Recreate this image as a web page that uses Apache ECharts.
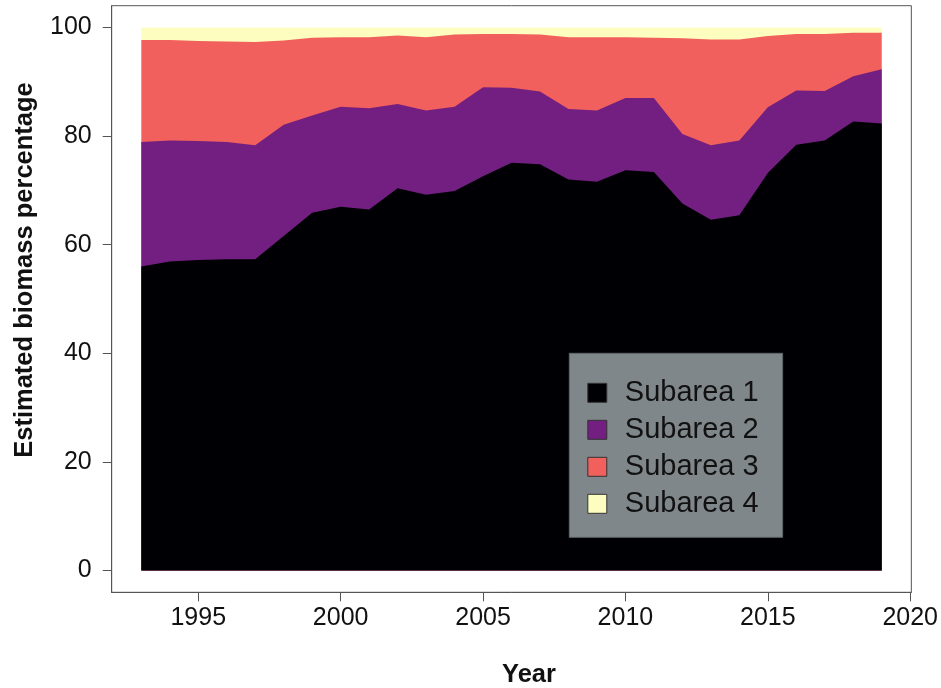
<!DOCTYPE html>
<html>
<head>
<meta charset="utf-8">
<script src="https://cdn.jsdelivr.net/npm/echarts@6/dist/echarts.min.js"></script>
<style>
  html, body { margin: 0; padding: 0; background: #ffffff; }
  #chart { width: 941px; height: 688px; }
</style>
</head>
<body>
<div id="chart"></div>
<script>
// ---- data ----
const years = [1993, 1994, 1995, 1996, 1997, 1998, 1999, 2000, 2001, 2002, 2003, 2004, 2005, 2006,
               2007, 2008, 2009, 2010, 2011, 2012, 2013, 2014, 2015, 2016, 2017, 2018, 2019];
const subarea1 = [56.0, 56.9, 57.2, 57.3, 57.3, 61.6, 65.9, 67.0, 66.5, 70.4, 69.2, 69.9, 72.6, 75.1,
                  74.8, 72.0, 71.6, 73.7, 73.4, 67.6, 64.6, 65.4, 73.2, 78.4, 79.2, 82.7, 82.3];
const subarea2 = [22.9, 22.3, 21.9, 21.6, 21.0, 20.5, 17.9, 18.4, 18.6, 15.5, 15.5, 15.5, 16.4, 13.8,
                  13.4, 13.0, 13.1, 13.3, 13.6, 12.8, 13.7, 13.8, 12.1, 10.0, 9.1, 8.3, 10.0];
const subarea3 = [18.8, 18.5, 18.4, 18.5, 19.0, 15.5, 14.3, 12.8, 13.1, 12.6, 13.5, 13.3, 9.8, 9.9,
                  10.5, 13.2, 13.5, 11.2, 11.1, 17.6, 19.5, 18.6, 13.1, 10.4, 10.5, 8.0, 6.7];
const subarea4 = [2.3, 2.3, 2.5, 2.6, 2.7, 2.4, 1.9, 1.8, 1.8, 1.5, 1.8, 1.3, 1.2, 1.2,
                  1.3, 1.8, 1.8, 1.8, 1.9, 2.0, 2.2, 2.2, 1.6, 1.2, 1.2, 1.0, 1.0];
const seriesNames = ['Subarea 1', 'Subarea 2', 'Subarea 3', 'Subarea 4'];
const xTickValues = [1995, 2000, 2005, 2010, 2015, 2020];
const yTickValues = [0, 20, 40, 60, 80, 100];
const xTitle = 'Year';
const yTitle = 'Estimated biomass percentage';

// ---- styles ----
const colors = ['#000004', '#721F81', '#F1605D', '#FCFDBF'];
const FONT = '"Liberation Sans", Arial, sans-serif';
const allSeries = [subarea1, subarea2, subarea3, subarea4];

// cumulative tops of the stacked areas (each area drawn down to 0, upper ones underneath)
const cumulative = [];
allSeries.forEach((vals, i) => {
  cumulative.push(vals.map((v, j) => (i === 0 ? v : cumulative[i - 1][j] + v)));
});

const chart = echarts.init(document.getElementById('chart'), null, { renderer: 'canvas' });

const series = allSeries.map((vals, i) => ({
  name: seriesNames[i],
  type: 'line',
  data: years.map((y, j) => [y, +cumulative[i][j].toFixed(3)]),
  showSymbol: false,
  symbol: 'none',
  color: colors[i],
  itemStyle: { color: colors[i] },
  lineStyle: { width: 0, color: colors[i] },
  areaStyle: { color: colors[i], opacity: 1, origin: 0 },
  emphasis: { disabled: true },
  z: 10 - i
}));

const option = {
  animation: false,
  backgroundColor: '#ffffff',
  grid: {
    left: 111.7, top: 5.7, right: 29.3, bottom: 95.7,
    show: true, borderColor: '#555555', borderWidth: 1, backgroundColor: 'transparent',
    containLabel: false
  },
  xAxis: {
    type: 'value',
    min: 1991.96, max: 2020.04,
    splitLine: { show: false },
    axisLine: { show: true, onZero: false, lineStyle: { color: '#555555', width: 1 } },
    axisTick: { show: true, length: 9, customValues: xTickValues, lineStyle: { color: '#555555', width: 1 } },
    axisLabel: {
      show: true, customValues: xTickValues, margin: 13,
      fontSize: 25, fontFamily: FONT, color: '#111111',
      formatter: v => String(v)
    }
  },
  yAxis: {
    type: 'value',
    min: -4, max: 104,
    splitLine: { show: false },
    axisLine: { show: true, onZero: false, lineStyle: { color: '#555555', width: 1 } },
    axisTick: { show: true, length: 9, customValues: yTickValues, lineStyle: { color: '#555555', width: 1 } },
    axisLabel: {
      show: true, customValues: yTickValues, margin: 20,
      fontSize: 25, fontFamily: FONT, color: '#111111',
      formatter: v => String(v)
    }
  },
  legend: {
    show: true,
    data: seriesNames,
    orient: 'vertical',
    left: 569.3, top: 353.3,
    backgroundColor: '#80878b',
    borderColor: '#5f6669', borderWidth: 1,
    padding: [25, 24, 19, 18],
    itemWidth: 19, itemHeight: 19, itemGap: 8,
    icon: 'rect',
    itemStyle: { borderColor: '#333333', borderWidth: 1 },
    selectedMode: false,
    textStyle: { fontSize: 29, fontFamily: FONT, color: '#111111', lineHeight: 29, padding: [0, 0, 0, 13] },
    z: 20
  },
  graphic: [
    {
      type: 'text',
      x: 24.7, y: 270,
      rotation: Math.PI / 2,
      style: {
        text: yTitle, fill: '#111111',
        font: 'bold 25.5px ' + FONT,
        textAlign: 'center', textVerticalAlign: 'middle'
      }
    },
    {
      type: 'text',
      x: 529, y: 674.5,
      style: {
        text: xTitle, fill: '#111111',
        font: 'bold 25.5px ' + FONT,
        textAlign: 'center', textVerticalAlign: 'middle'
      }
    }
  ],
  series: series
};

chart.setOption(option);
</script>
</body>
</html>
